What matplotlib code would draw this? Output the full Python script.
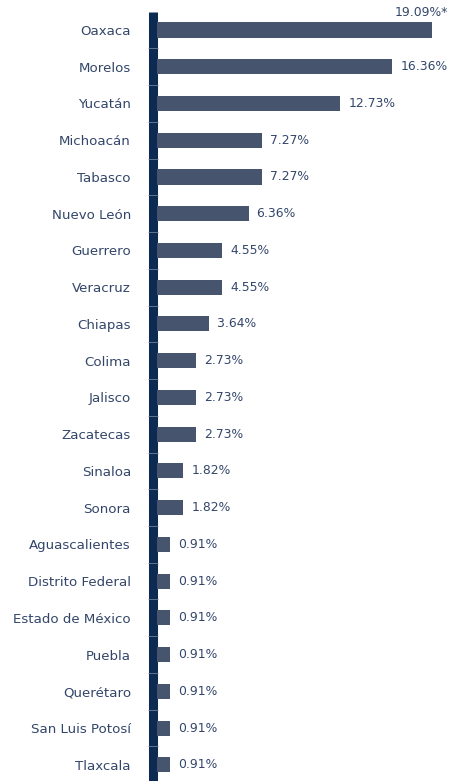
import matplotlib.pyplot as plt

states = [
    "Oaxaca", "Morelos", "Yucatán", "Michoacán", "Tabasco", "Nuevo León",
    "Guerrero", "Veracruz", "Chiapas", "Colima", "Jalisco", "Zacatecas",
    "Sinaloa", "Sonora", "Aguascalientes", "Distrito Federal",
    "Estado de México", "Puebla", "Querétaro", "San Luis Potosí", "Tlaxcala",
]
shares = [
    19.09, 16.36, 12.73, 7.27, 7.27, 6.36,
    4.55, 4.55, 3.64, 2.73, 2.73, 2.73,
    1.82, 1.82, 0.91, 0.91,
    0.91, 0.91, 0.91, 0.91, 0.91,
]
value_labels = [f"{v:.2f}%" for v in shares]
value_labels[0] = "19.09%*"

BAR = "#46556d"
AXIS = "#0d2a52"
TEXT = "#33466a"

W, H = 449, 781
fig = plt.figure(figsize=(W / 100, H / 100), dpi=100)
# bar area starts at x=157, axis bar top at y=12
ax = fig.add_axes([157 / W, 0, (442 - 157) / W, (H - 12) / H])
ax.set_facecolor("none")

rows = list(range(len(states)))
ax.barh(rows, shares, height=0.41, color=BAR, zorder=2)
ax.set_xlim(0, 19.8)
ax.set_ylim(20.44, -0.49)

for i, (v, lab) in enumerate(zip(shares, value_labels)):
    if i == 0:
        ax.annotate(lab, (v, i), xytext=(11.5, 12.5), textcoords="offset points",
                    ha="right", va="center", fontsize=8.9, color=TEXT,
                    annotation_clip=False)
    else:
        ax.annotate(lab, (v, i), xytext=(5.8, 0), textcoords="offset points",
                    ha="left", va="center", fontsize=8.9, color=TEXT)

for side in ("top", "right", "bottom"):
    ax.spines[side].set_visible(False)
sp = ax.spines["left"]
sp.set_linewidth(6.5)
sp.set_color(AXIS)
sp.set_capstyle("butt")
sp.set_position(("outward", 3.24))
sp.set_zorder(0.5)

ax.set_xticks([])
ax.set_yticks(rows)
ax.set_yticklabels(states, fontsize=9.6, color=TEXT)
ax.tick_params(axis="y", which="major", length=0, pad=15.5)
ax.set_yticks([r + 0.5 for r in rows[:-1]], minor=True)
ax.tick_params(axis="y", which="minor", length=6.5, width=0.6,
               color="#6d7f99", direction="inout")

fig.savefig("out.png", dpi=100)
